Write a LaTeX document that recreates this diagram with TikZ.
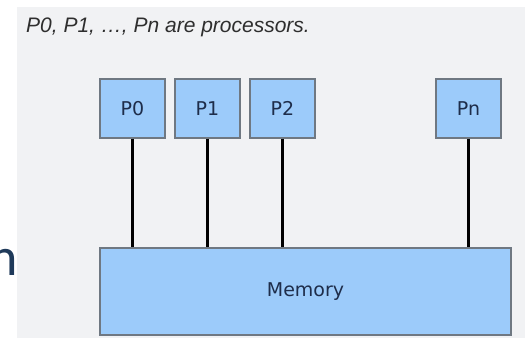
\documentclass[tikz,border=0pt]{standalone}
\usepackage{fontspec}
\setmainfont{Liberation Sans}
\newfontfamily\capfont{Liberation Sans}
\newfontfamily\boxfont{DejaVu Sans}
\newfontfamily\slidefont{Carlito}
\definecolor{panelgray}{HTML}{F1F2F4}
\definecolor{boxblue}{HTML}{9CCBFA}
\definecolor{boxedge}{HTML}{6F7882}
\definecolor{navytext}{HTML}{1E2D4A}
\definecolor{slidenavy}{HTML}{1F3A5A}
\definecolor{captext}{HTML}{2E2E2E}
\tikzset{
  x=1pt, y=-1pt,
  procbox/.style={draw=boxedge, line width=1.3pt, fill=boxblue, minimum width=65pt, minimum height=59pt, inner sep=0pt, font=\boxfont\fontsize{19}{19}\selectfont, text=navytext},
  membox/.style={draw=boxedge, line width=1.3pt, fill=boxblue, minimum width=411pt, minimum height=87pt, inner sep=0pt, font=\boxfont\fontsize{19}{19}\selectfont, text=navytext},
  bus/.style={line width=2.8pt, black}
}
\begin{document}
\begin{tikzpicture}
\useasboundingbox (0,0) rectangle (525,338);
\clip (0,0) rectangle (525,338);
\fill[white] (0,0) rectangle (525,338);
\fill[panelgray] (17,7) rectangle (525,338);
\node[anchor=base west, inner sep=0pt, text=captext, font=\capfont\itshape\fontsize{21}{21}\selectfont] (cap) at (26,32) {P0, P1, \dots, Pn are processors.};
\node[anchor=base east, inner sep=0pt, text=slidenavy, font=\slidefont\fontsize{54}{54}\selectfont] (frag) at (18,275) {n};
\node[procbox] (p0) at (132.5,108.5) {P0};
\node[procbox] (p1) at (207.5,108.5) {P1};
\node[procbox] (p2) at (282.5,108.5) {P2};
\node[procbox] (pn) at (468.5,108.5) {Pn};
\node[membox] (mem) at (305.5,291.5) {Memory};
\foreach \p in {p0,p1,p2,pn} {
  \draw[bus] (\p.south) -- (\p.south |- mem.north);
}
\end{tikzpicture}
\end{document}
